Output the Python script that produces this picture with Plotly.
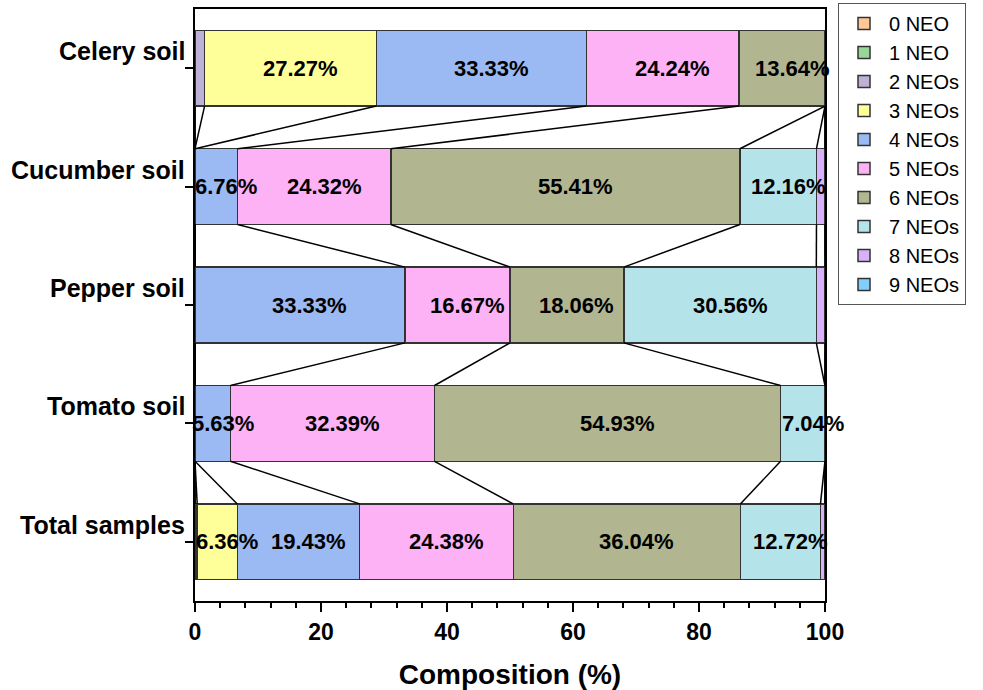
import plotly.graph_objects as go

categories = ["Celery soil", "Cucumber soil", "Pepper soil", "Tomato soil", "Total samples"]
series_names = ["0 NEO", "1 NEO", "2 NEOs", "3 NEOs", "4 NEOs", "5 NEOs", "6 NEOs", "7 NEOs", "8 NEOs", "9 NEOs"]
colors = ["#FFC896", "#99D699", "#BFB1D5", "#FFFF99", "#9BB9F2", "#FDB2F6", "#B1B690", "#B5E3EA", "#D7B2FA", "#80CFFF"]

# composition (%) per category, one list per series (order follows categories)
neo0 = [0, 0, 0, 0, 0]
neo1 = [0, 0, 0, 0, 0]
neo2 = [1.52, 0, 0, 0, 0.35]
neo3 = [27.27, 0, 0, 0, 6.36]
neo4 = [33.33, 6.76, 33.33, 5.63, 19.43]
neo5 = [24.24, 24.32, 16.67, 32.39, 24.38]
neo6 = [13.64, 55.41, 18.06, 54.93, 36.04]
neo7 = [0, 12.16, 30.56, 7.04, 12.72]
neo8 = [0, 1.35, 1.39, 0, 0.71]
neo9 = [0, 0, 0, 0, 0]
series = [neo0, neo1, neo2, neo3, neo4, neo5, neo6, neo7, neo8, neo9]

label_min = 5.0
font_family = "Arial, Liberation Sans, sans-serif"

pos = list(range(len(categories) - 1, -1, -1))  # Celery at top
bar_w = 0.64

fig = go.Figure()
for name, vals, col in zip(series_names, series, colors):
    fig.add_trace(go.Bar(
        y=pos, x=vals, orientation="h", name=name, width=bar_w,
        marker=dict(color=col, line=dict(color="#333333", width=1.5)),
        legendgroup=name, hoverinfo="x+name",
    ))

# cumulative sums
cum = []
for ci in range(len(categories)):
    s = 0.0
    row = []
    for vals in series:
        s += vals[ci]
        row.append(s)
    cum.append(row)

# connecting lines between consecutive bars
lx, ly = [], []
for ci in range(len(categories) - 1):
    for k in range(len(series)):
        lx += [cum[ci][k], cum[ci + 1][k], None]
        ly += [pos[ci] - bar_w / 2, pos[ci + 1] + bar_w / 2, None]
fig.add_trace(go.Scatter(x=lx, y=ly, mode="lines", line=dict(color="black", width=1.5),
                         showlegend=False, hoverinfo="skip"))

# value labels
for ci in range(len(categories)):
    start = 0.0
    for vals in series:
        v = vals[ci]
        if v >= label_min:
            fig.add_annotation(x=start + v / 2, y=pos[ci], xref="x", yref="y",
                               text=f"{v:.2f}%", showarrow=False, xshift=10,
                               font=dict(family=font_family, size=22, color="black", weight="bold"))
        start += v

# category labels
for c, p in zip(categories, pos):
    fig.add_annotation(x=0, xref="paper", y=p, yref="y", text=c, showarrow=False,
                       xanchor="right", yanchor="middle", xshift=-8, yshift=17,
                       font=dict(family=font_family, size=25, color="black", weight="bold"))

fig.update_layout(
    width=983, height=690,
    barmode="stack",
    plot_bgcolor="white", paper_bgcolor="white",
    margin=dict(l=195, r=158, t=9, b=89, autoexpand=False),
    font=dict(family=font_family, color="black"),
    legend=dict(xref="container", yref="container", x=838 / 983, y=1 - 3 / 690,
                xanchor="left", yanchor="top",
                font=dict(family=font_family, size=20, color="black"),
                bgcolor="white", bordercolor="#555555", borderwidth=1,
                traceorder="normal", tracegroupgap=0, itemwidth=40),
    xaxis=dict(range=[0, 100], dtick=20, tick0=0, ticks="outside", ticklen=9, tickwidth=2,
               tickcolor="black", showline=True, linewidth=2, linecolor="black", mirror=True,
               showgrid=False, zeroline=False,
               minor=dict(dtick=4, ticks="outside", ticklen=5, tickwidth=2, tickcolor="black", showgrid=False),
               tickfont=dict(family=font_family, size=23, color="black", weight="bold"),
               title=dict(text="Composition (%)", standoff=23,
                          font=dict(family=font_family, size=28, color="black", weight="bold"))),
    yaxis=dict(range=[-0.5, 4.5], tickvals=pos, ticktext=[""] * len(pos), ticks="outside",
               ticklen=8, tickwidth=2, tickcolor="black", showline=True, linewidth=2,
               linecolor="black", mirror=True, showgrid=False, zeroline=False,
               showticklabels=False),
)

fig.write_html("out.html", config={"displayModeBar": False},
               post_script="document.body.style.margin='0';")
